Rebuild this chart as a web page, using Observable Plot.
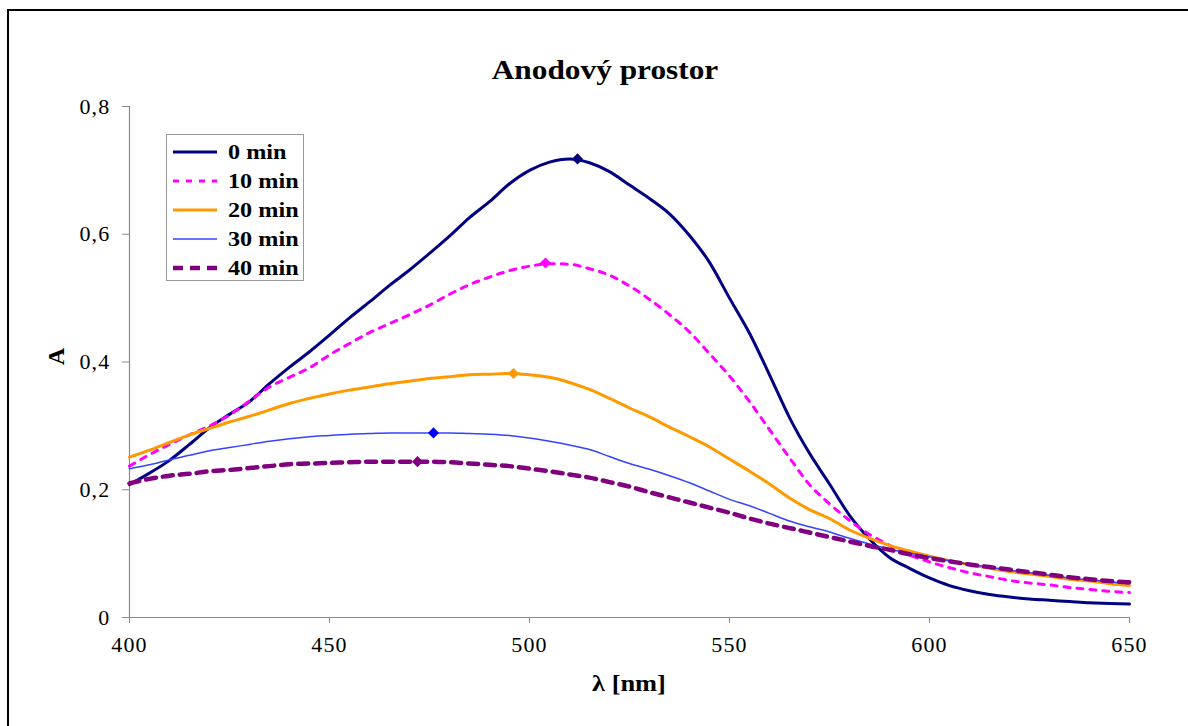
<!DOCTYPE html>
<html>
<head>
<meta charset="utf-8">
<script src="https://cdn.jsdelivr.net/npm/d3@7"></script>
<script src="https://cdn.jsdelivr.net/npm/@observablehq/plot@0.6"></script>
<style>
  html, body { margin: 0; padding: 0; background: #fff; overflow: hidden; }
  #wrap { position: relative; width: 1188px; height: 726px; font-family: "Liberation Serif", "Times New Roman", serif; }
  #frame { position: absolute; left: 7px; top: 9px; width: 1200px; height: 740px; border: 2px solid #000; box-sizing: border-box; }
  #chart { position: absolute; left: 0; top: 0; }
  .lbl { position: absolute; font-weight: bold; color: #000; white-space: nowrap; }
  #title { left: 605px; top: 55px; font-size: 27px; transform: translateX(-50%) scaleX(1.16); }
  #xlab { left: 629px; top: 670px; font-size: 24px; transform: translateX(-50%) scaleX(1.1); }
  #ylab { left: 48px; top: 343px; font-size: 24px; transform: rotate(-90deg); transform-origin: center; }
  #legend { position: absolute; left: 166px; top: 134px; width: 138px; height: 147px; border: 1.5px solid #999; box-sizing: border-box; background: #fff; }
  .row { position: absolute; left: 0; height: 29px; }
  .row svg { position: absolute; left: 5px; top: 0; }
  .row span { position: absolute; left: 61px; top: 1px; font-size: 22px; font-weight: bold; white-space: nowrap; transform-origin: left center; transform: scaleX(1.1); }
  svg text { letter-spacing: 1.2px; }
</style>
</head>
<body>
<div id="wrap">
  <div id="frame"></div>
  <div id="chart"></div>
  <div class="lbl" id="title">Anodový prostor</div>
  <div class="lbl" id="xlab">λ [nm]</div>
  <div class="lbl" id="ylab">A</div>
  <div id="legend"></div>
</div>
<script>
// ---- data ----
const wavelengths = [400,405,410,415,420,425,430,435,440,445,450,455,460,465,470,475,480,485,490,495,500,505,510,515,520,525,530,535,540,545,550,555,560,565,570,575,580,585,590,595,600,605,610,615,620,625,630,635,640,645,650];

const min0  = [0.208,0.226,0.246,0.271,0.297,0.318,0.338,0.366,0.392,0.416,0.442,0.469,0.494,0.520,0.544,0.570,0.597,0.626,0.651,0.679,0.700,0.713,0.718,0.712,0.698,0.677,0.656,0.632,0.598,0.556,0.500,0.445,0.380,0.313,0.257,0.209,0.160,0.123,0.094,0.077,0.062,0.050,0.042,0.036,0.032,0.029,0.027,0.025,0.023,0.022,0.021];
const min10 = [0.237,0.255,0.271,0.286,0.300,0.317,0.339,0.361,0.376,0.391,0.411,0.429,0.446,0.460,0.474,0.489,0.506,0.521,0.533,0.543,0.550,0.554,0.553,0.546,0.536,0.519,0.498,0.474,0.447,0.413,0.378,0.338,0.294,0.250,0.208,0.178,0.152,0.130,0.113,0.098,0.087,0.078,0.070,0.064,0.058,0.054,0.051,0.047,0.044,0.041,0.039];
const min20 = [0.251,0.262,0.274,0.286,0.296,0.306,0.315,0.325,0.335,0.343,0.350,0.356,0.361,0.366,0.370,0.374,0.377,0.380,0.381,0.382,0.380,0.376,0.368,0.357,0.343,0.328,0.314,0.298,0.283,0.267,0.248,0.229,0.209,0.187,0.169,0.155,0.137,0.124,0.113,0.104,0.096,0.089,0.083,0.077,0.072,0.068,0.064,0.060,0.057,0.053,0.050];
const min30 = [0.233,0.239,0.247,0.254,0.261,0.266,0.271,0.276,0.280,0.283,0.285,0.287,0.288,0.289,0.289,0.289,0.289,0.288,0.287,0.285,0.281,0.276,0.270,0.263,0.252,0.241,0.232,0.222,0.211,0.198,0.185,0.175,0.163,0.151,0.142,0.134,0.124,0.115,0.107,0.101,0.095,0.089,0.083,0.079,0.074,0.070,0.066,0.062,0.059,0.056,0.053];
const min40 = [0.210,0.217,0.222,0.225,0.229,0.231,0.234,0.237,0.240,0.241,0.242,0.243,0.244,0.244,0.244,0.244,0.243,0.241,0.239,0.237,0.233,0.229,0.224,0.219,0.212,0.205,0.196,0.188,0.180,0.172,0.164,0.155,0.147,0.140,0.133,0.126,0.119,0.112,0.106,0.099,0.093,0.088,0.083,0.079,0.075,0.071,0.067,0.063,0.060,0.057,0.055];

const seriesNames = ["0 min","10 min","20 min","30 min","40 min"];
const peakX = [512, 504, 496, 476, 472];
const peakY = [0.718, 0.555, 0.382, 0.289, 0.244];
const xTicks = [400,450,500,550,600,650];
const yTicks = [0,0.2,0.4,0.6,0.8];

// ---- styles ----
const styles = [
  {stroke:"#000080", width:3,   dash:null,  marker:"#000080"},
  {stroke:"#FF00FF", width:3,   dash:"6,7", marker:"#FF00FF"},
  {stroke:"#FF9900", width:3,   dash:null,  marker:"#FF9900"},
  {stroke:"#3344FF", width:1.5, dash:null,  marker:"#0000FF"},
  {stroke:"#800080", width:4.5, dash:"10,7", marker:"#800080"}
];
const allSeries = [min0, min10, min20, min30, min40];

const lineMarks = allSeries.map((vals, i) => {
  const rows = wavelengths.map((w, j) => ({x: w, y: vals[j]}));
  const s = styles[i];
  const opts = {x:"x", y:"y", stroke: s.stroke, strokeWidth: s.width, curve: "monotone-x"};
  if (s.dash) opts.strokeDasharray = s.dash;
  return Plot.line(rows, opts);
});
const peaks = peakX.map((x, i) => ({x, y: peakY[i], c: styles[i].marker}));

const fmt = d => d === 0 ? "0" : d.toFixed(1).replace(".", ",");

const chart = Plot.plot({
  width: 1188, height: 726,
  marginLeft: 129, marginRight: 59, marginTop: 106, marginBottom: 109,
  style: {fontFamily: "'Liberation Serif','Times New Roman',serif", fontSize: "22px", background: "transparent", color: "#000"},
  x: {domain: [400, 650]},
  y: {domain: [0, 0.8]},
  marks: [
    Plot.ruleX([400], {stroke: "#8a8a8a", strokeWidth: 1.2}),
    Plot.ruleY([0], {stroke: "#8a8a8a", strokeWidth: 1.2}),
    Plot.axisX({ticks: xTicks, tickSize: 6, tickPadding: 13, stroke: "#8a8a8a", fill: "#000", label: null, tickFormat: d => String(d)}),
    Plot.axisY({ticks: yTicks, tickSize: 7, tickPadding: 12, stroke: "#8a8a8a", fill: "#000", label: null, tickFormat: fmt}),
    ...lineMarks,
    Plot.dot(peaks, {x: "x", y: "y", fill: "c", symbol: "diamond2", r: 5, stroke: null})
  ]
});
document.getElementById("chart").appendChild(chart);

// ---- legend ----
const legend = document.getElementById("legend");
seriesNames.forEach((name, i) => {
  const s = styles[i];
  const row = document.createElement("div");
  row.className = "row";
  row.style.top = (3 + i * 29) + "px";
  row.style.width = "136px";
  const dash = s.dash ? `stroke-dasharray="${s.dash}"` : "";
  row.innerHTML = `<svg width="46" height="29"><line x1="1" x2="45" y1="14" y2="14" stroke="${s.stroke}" stroke-width="${s.width}" ${dash}/></svg><span>${name}</span>`;
  legend.appendChild(row);
});
</script>
</body>
</html>
